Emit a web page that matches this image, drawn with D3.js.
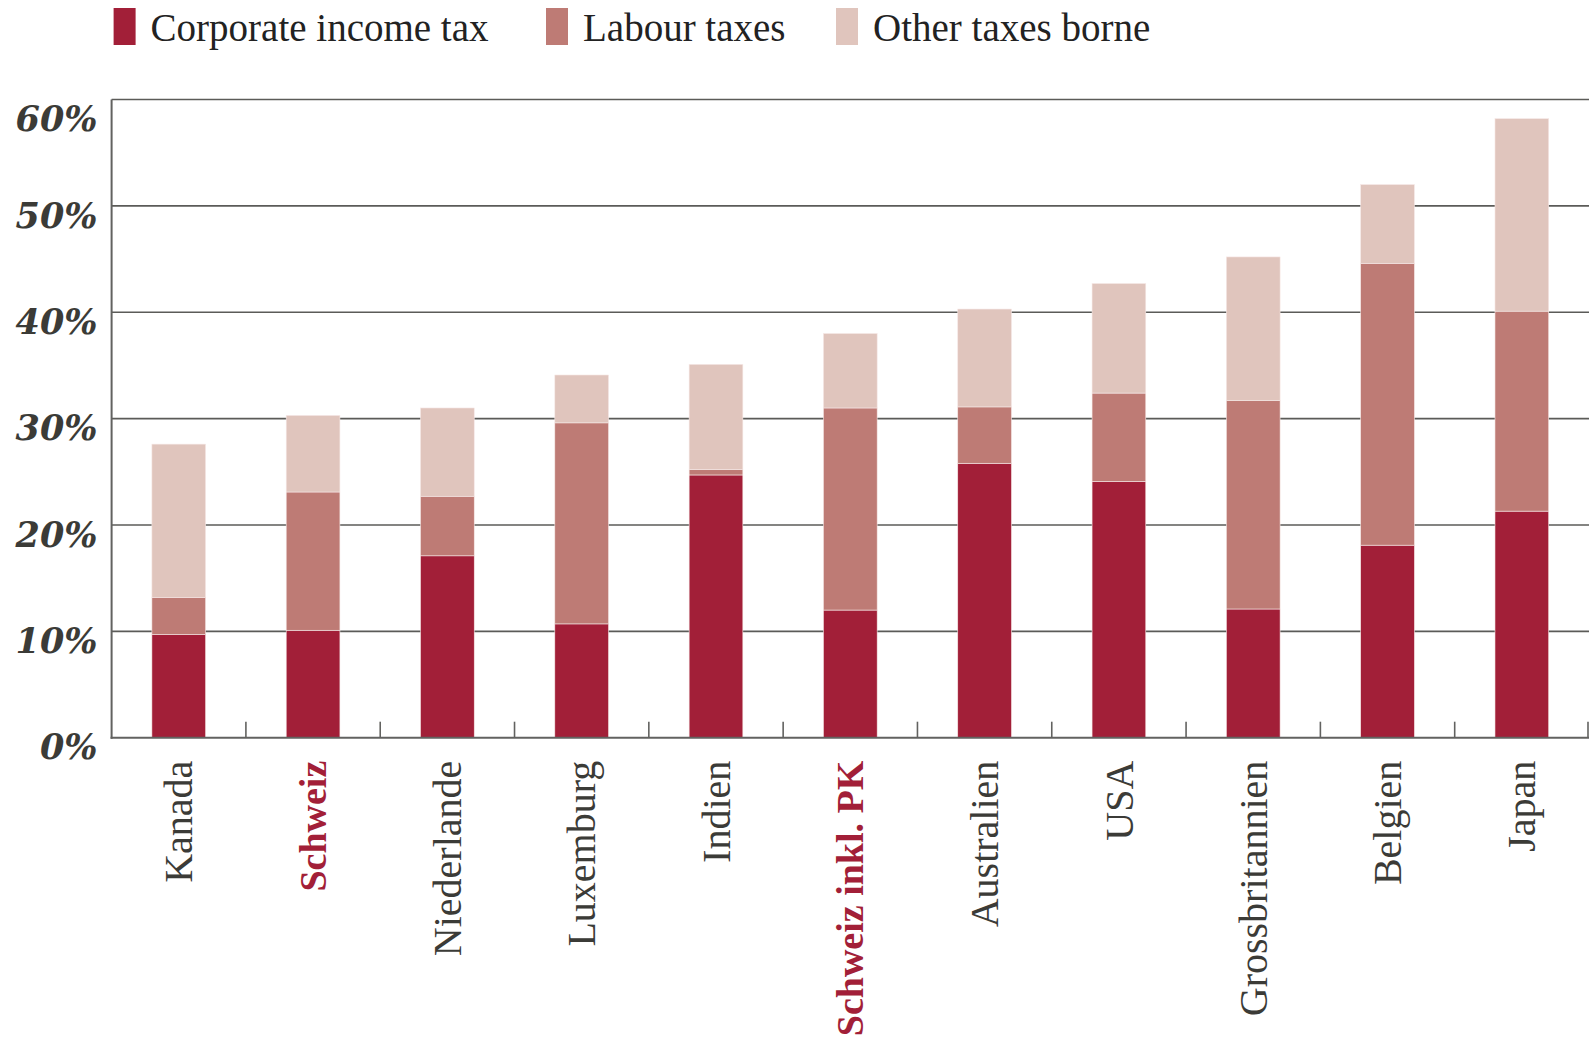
<!DOCTYPE html>
<html>
<head>
<meta charset="utf-8">
<script src="https://cdn.jsdelivr.net/npm/d3@7"></script>
<style>
  html, body { margin: 0; padding: 0; background: #fff; }
  svg { display: block; }
</style>
</head>
<body>
<svg id="chart" width="1591" height="1042"></svg>
<script>
// Total tax contribution by type, share of commercial profit (%)
const countries = ["Kanada", "Schweiz", "Niederlande", "Luxemburg", "Indien", "Schweiz inkl. PK",
                   "Australien", "USA", "Grossbritannien", "Belgien", "Japan"];
const highlighted = ["Schweiz", "Schweiz inkl. PK"];
const corporateIncomeTax = [9.7, 10.1, 17.1, 10.7, 24.7, 12.0, 25.8, 24.1, 12.1, 18.1, 21.3];
const labourTaxes        = [3.5, 13.0, 5.6, 18.9, 0.5, 19.0, 5.3, 8.3, 19.6, 26.5, 18.8];
const otherTaxesBorne    = [14.4, 7.2, 8.3, 4.5, 9.9, 7.0, 9.2, 10.3, 13.5, 7.4, 18.1];
const seriesNames = ["Corporate income tax", "Labour taxes", "Other taxes borne"];
const seriesColors = ["#a21f38", "#be7b75", "#e0c5bd"];
const yTicks = [0, 10, 20, 30, 40, 50, 60];

const rows = countries.map((c, i) => ({
  country: c,
  "Corporate income tax": corporateIncomeTax[i],
  "Labour taxes": labourTaxes[i],
  "Other taxes borne": otherTaxesBorne[i]
}));

const svg = d3.select("#chart");
const plotLeft = 111.6, plotRight = 1589, plotTop = 99.5, plotBottom = 737.7;

const x = d3.scaleBand().domain(countries).range([plotLeft, plotRight]).padding(0);
const y = d3.scaleLinear().domain([0, 60]).range([plotBottom, plotTop]);
const barW = x.bandwidth() * 0.4;
const color = d3.scaleOrdinal().domain(seriesNames).range(seriesColors);

// Horizontal gridlines (the 60% line closes the frame at the top)
svg.append("g")
  .selectAll("line")
  .data(yTicks.filter(d => d > 0))
  .join("line")
  .attr("x1", plotLeft).attr("x2", plotRight)
  .attr("y1", d => y(d)).attr("y2", d => y(d))
  .attr("stroke", "#5b5b58")
  .attr("stroke-width", 1.6);

// Stacked bars
const stacked = d3.stack().keys(seriesNames)(rows);
svg.append("g")
  .selectAll("g")
  .data(stacked)
  .join("g")
  .attr("fill", d => color(d.key))
  .selectAll("rect")
  .data(d => d)
  .join("rect")
  .attr("x", d => x(d.data.country) + (x.bandwidth() - barW) / 2)
  .attr("width", barW)
  .attr("y", d => y(d[1]))
  .attr("height", d => y(d[0]) - y(d[1]))
  .attr("stroke", "#f6e8e6")
  .attr("stroke-width", 0.6);

// Y axis line and baseline with inner ticks at band boundaries
const axisColor = "#626260";
svg.append("line")
  .attr("x1", plotLeft).attr("x2", plotLeft)
  .attr("y1", plotTop).attr("y2", plotBottom + 1)
  .attr("stroke", axisColor).attr("stroke-width", 2);
svg.append("line")
  .attr("x1", plotLeft - 1).attr("x2", plotRight)
  .attr("y1", plotBottom).attr("y2", plotBottom)
  .attr("stroke", axisColor).attr("stroke-width", 2);
svg.append("g")
  .selectAll("line")
  .data(countries.slice(1).concat([null]))
  .join("line")
  .attr("x1", d => d === null ? plotRight - 1 : x(d))
  .attr("x2", d => d === null ? plotRight - 1 : x(d))
  .attr("y1", plotBottom).attr("y2", plotBottom - 16)
  .attr("stroke", axisColor).attr("stroke-width", 1.6);

// Y tick labels
svg.append("g")
  .selectAll("text")
  .data(yTicks)
  .join("text")
  .attr("x", 97.5)
  .attr("y", d => Math.max(y(d), 109))
  .attr("dy", "0.62em")
  .attr("text-anchor", "end")
  .attr("font-family", "'DejaVu Serif', serif")
  .attr("font-weight", "bold")
  .attr("font-style", "italic")
  .attr("font-size", 35)
  .attr("fill", "#3b3b37")
  .text(d => d + "%");

// Category labels, rotated
svg.append("g")
  .selectAll("text")
  .data(countries)
  .join("text")
  .attr("transform", d => `translate(${x(d) + x.bandwidth() / 2},${plotBottom + 23}) rotate(-90)`)
  .attr("dy", "0.34em")
  .attr("text-anchor", "end")
  .attr("font-family", "'Liberation Serif', serif")
  .attr("font-size", d => highlighted.includes(d) ? 38 : 40)
  .attr("font-weight", d => highlighted.includes(d) ? "bold" : "normal")
  .attr("fill", d => highlighted.includes(d) ? "#a21f38" : "#3b3b37")
  .text(d => d);

// Legend
const legendX = [113.6, 546, 836];
const legend = svg.append("g")
  .selectAll("g")
  .data(seriesNames)
  .join("g")
  .attr("transform", (d, i) => `translate(${legendX[i]},8)`);
legend.append("rect")
  .attr("width", 22).attr("height", 37)
  .attr("fill", d => color(d));
legend.append("text")
  .attr("x", 37).attr("y", 19)
  .attr("dy", "0.35em")
  .attr("font-family", "'Liberation Serif', serif")
  .attr("font-size", 39)
  .attr("fill", "#222")
  .text(d => d);
</script>
</body>
</html>
